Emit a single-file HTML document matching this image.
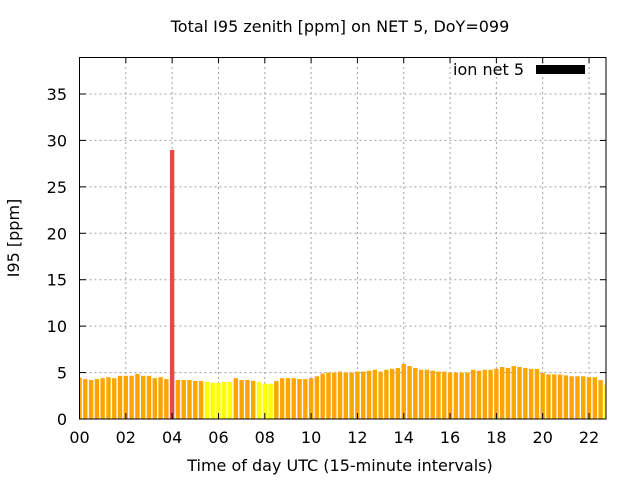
<!DOCTYPE html>
<html><head><meta charset="utf-8"><style>
html,body{margin:0;padding:0;background:#fff;}
svg{display:block;font-family:"DejaVu Sans","Liberation Sans",sans-serif;}
</style></head><body>
<svg id="s" width="640" height="480" viewBox="0 0 640 480" xmlns="http://www.w3.org/2000/svg">
<rect width="640" height="480" fill="#fff"/>
<g id="grid" stroke="#a0a0a0" stroke-width="1" stroke-dasharray="2,3"></g>
<g id="bars"></g>
<rect x="79.5" y="57.5" width="526.5" height="361.5" fill="none" stroke="#000" stroke-width="1"/>
<g id="ticks" stroke="#000" stroke-width="1"></g>
<g font-size="16" fill="#000">
<text x="340" y="32" text-anchor="middle">Total I95 zenith [ppm] on NET 5, DoY=099</text>
<text x="340" y="471" text-anchor="middle">Time of day UTC (15-minute intervals)</text>
<text transform="translate(19,238) rotate(-90)" text-anchor="middle">I95 [ppm]</text>
<text x="524" y="75" text-anchor="end">ion net 5</text>
</g>
<rect x="536" y="65" width="49" height="9" fill="#000"/>
<g id="yl" font-size="16" text-anchor="end"></g>
<g id="xl" font-size="16" text-anchor="middle"></g>
</svg>
<script>
var ns="http://www.w3.org/2000/svg";
function el(p,t,a,txt){var e=document.createElementNS(ns,t);for(var k in a)e.setAttribute(k,a[k]);if(txt!=null)e.textContent=txt;document.getElementById(p).appendChild(e);}
var x0=79.5,dx=5.79,y0=419,py=9.286;
for(var v=5;v<=35;v+=5){var y=y0-v*py;el("grid","line",{x1:x0,x2:606,y1:y,y2:y});}
for(var h=2;h<=22;h+=2){var x=x0+h*4*dx;el("grid","line",{x1:x,x2:x,y1:57,y2:419});}
var vals=[4.45,4.3,4.2,4.3,4.4,4.5,4.4,4.65,4.65,4.65,4.85,4.65,4.65,4.4,4.5,4.3,
28.97,4.2,4.2,4.2,4.1,4.1,4.0,3.9,3.9,4.0,4.0,4.4,4.2,4.2,4.1,4.0,3.8,3.8,
4.1,4.4,4.4,4.4,4.3,4.3,4.4,4.6,4.9,5.0,5.0,5.1,5.0,5.0,5.1,5.1,5.2,5.3,5.1,5.3,5.4,5.5,
5.92,5.7,5.5,5.3,5.3,5.2,5.1,5.1,5.0,5.0,5.0,5.0,5.3,5.2,5.3,5.3,5.4,5.6,5.5,5.7,5.6,5.5,5.4,5.4,
4.95,4.8,4.8,4.8,4.7,4.6,4.6,4.6,4.5,4.5,4.2,3.7];
var yel={22:1,23:1,24:1,25:1,26:1,31:1,32:1,33:1,91:1};
for(var i=0;i<vals.length;i++){
 var c=x0+i*dx, l=c-2.2, r=c+2.2; if(l<80)l=80; if(r>605.5)r=605.5;
 var hh=vals[i]*py;
 var col=i==16?"#e84848":(yel[i]?"#ffff00":"#ffa500");
 el("bars","rect",{x:l,y:y0-hh,width:r-l,height:hh,fill:col});
}
for(var v=0;v<=35;v+=5){var y=y0-v*py;el("ticks","line",{x1:79.5,x2:86,y1:y,y2:y});el("ticks","line",{x1:600,x2:606,y1:y,y2:y});el("yl","text",{x:67,y:y+6},String(v));}
for(var h=0;h<=22;h+=2){var x=x0+h*4*dx;el("ticks","line",{x1:x,x2:x,y1:419,y2:413});el("ticks","line",{x1:x,x2:x,y1:57,y2:63});el("xl","text",{x:x,y:443},(h<10?"0":"")+h);}
</script>
</body></html>
